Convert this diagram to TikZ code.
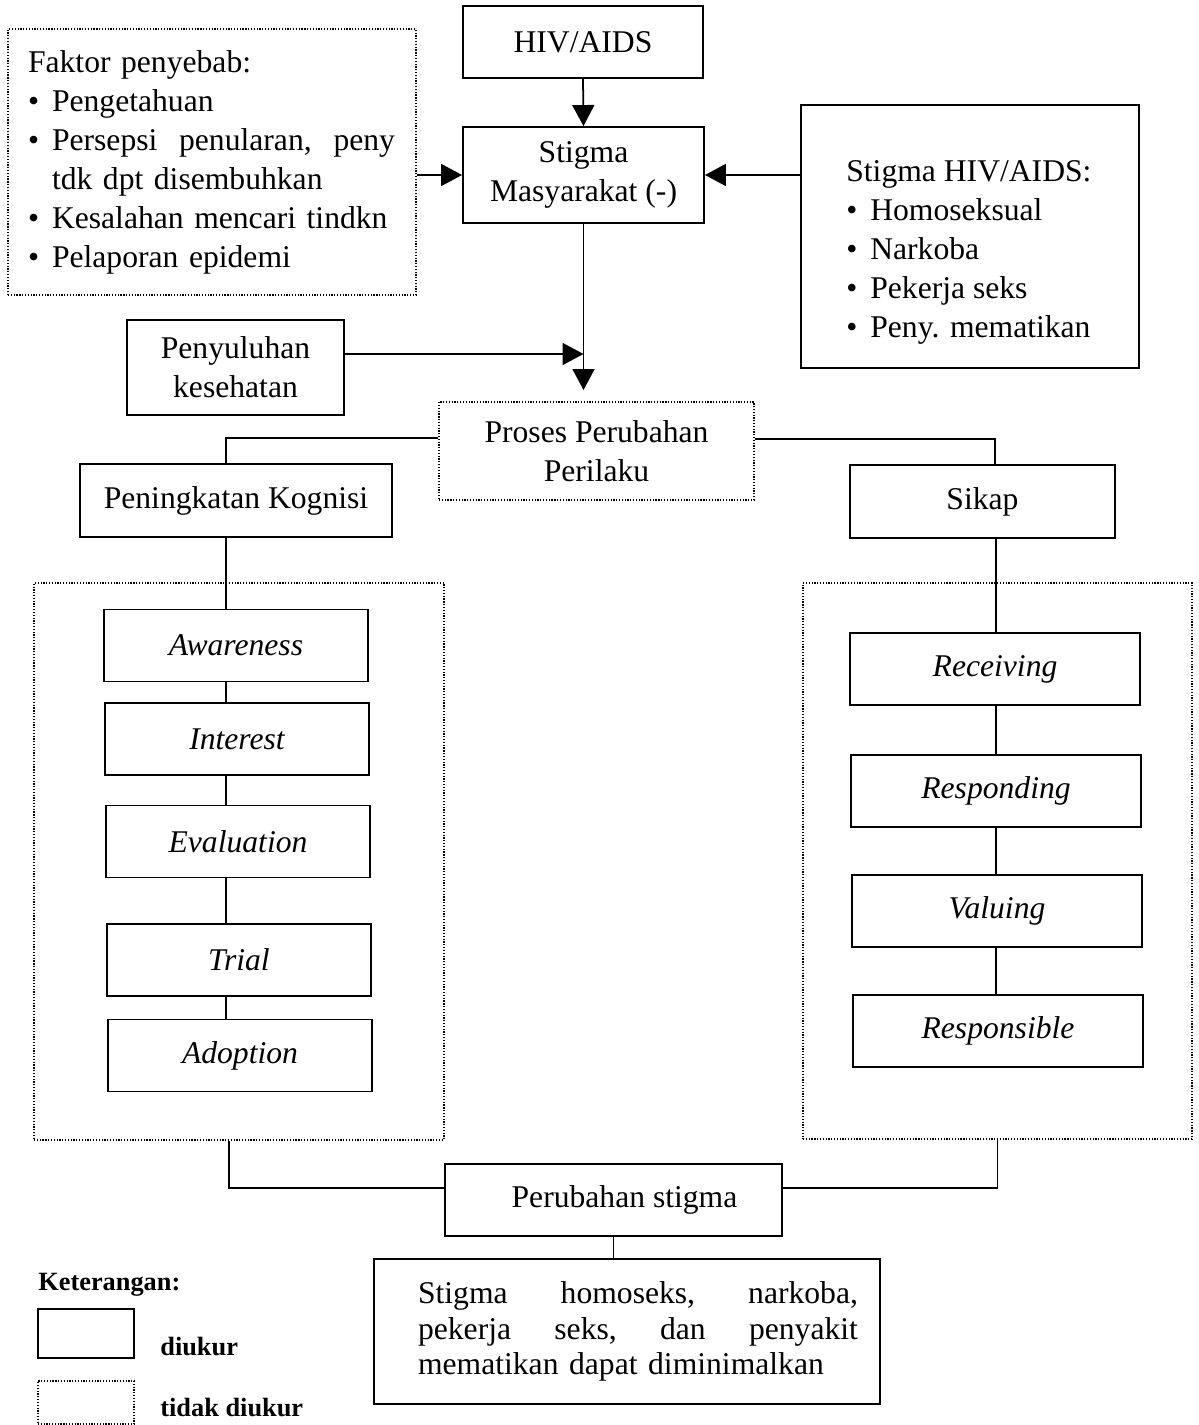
\documentclass[tikz,border=0pt]{standalone}
\usepackage{fontspec}
\setmainfont{Liberation Serif}
\usetikzlibrary{arrows.meta,calc}
\newcommand{\bul}{\makebox[0.48cm][l]{\textbullet}}
\begin{document}
\begin{tikzpicture}[x=0.02cm,y=-0.02cm,
  basefont/.style={font=\fontsize{18pt}{22.2pt}\selectfont},
  solidbox/.style={draw, line width=1.1pt, inner sep=0pt, align=center, basefont},
  dotbox/.style={draw, line width=0.9pt, dash pattern=on 0.7pt off 0.9pt, inner sep=0pt, align=center, basefont},
  stagebox/.style={solidbox, font=\fontsize{18pt}{22.2pt}\selectfont\itshape},
  lbox/.style={stagebox, minimum width=5.28cm, minimum height=1.44cm},
  rbox/.style={stagebox, minimum width=5.8cm, minimum height=1.44cm},
  legtext/.style={anchor=west, inner sep=0pt, font=\fontsize{15pt}{18pt}\selectfont\bfseries},
  link/.style={line width=1pt},
  arr/.style={line width=1pt, -{Triangle[length=0.42cm,width=0.44cm]}}]
\useasboundingbox (0,0) rectangle (1198,1425);

% helper coordinates
\coordinate (lx) at (226,0);
\coordinate (rx) at (996,0);
\coordinate (pend) at (584,390);

% top part
\node[solidbox, minimum width=4.8cm, minimum height=1.44cm] (hiv) at (583,42) {HIV/AIDS};
\node[solidbox, minimum width=4.82cm, minimum height=1.92cm] (stigma) at (583.5,175) {Stigma\\Masyarakat (-)};
\node[dotbox, minimum width=8.16cm, minimum height=5.32cm, text width=7.36cm, inner xsep=0.4cm, align=left] (faktor) at (212,162)
 {Faktor penyebab:\\
  \bul Pengetahuan\\
  \bul\makebox[6.86cm][l]{Persepsi\hfill penularan,\hfill peny}\\
  \hspace*{0.48cm}tdk dpt disembuhkan\\
  \bul Kesalahan mencari tindkn\\
  \bul Pelaporan epidemi};
\node[solidbox, minimum width=6.76cm, minimum height=5.26cm] (stigmahiv) at (970,236.5) {};
\node[anchor=north west, inner sep=0pt, align=left, basefont] (stigmahivtext) at (846,160)
 {Stigma HIV/AIDS:\\
  \bul Homoseksual\\
  \bul Narkoba\\
  \bul Pekerja seks\\
  \bul Peny. mematikan};
\node[solidbox, minimum width=4.34cm, minimum height=1.9cm] (penyuluhan) at (235.5,367.5) {Penyuluhan\\kesehatan};
\node[dotbox, minimum width=6.3cm, minimum height=1.96cm] (proses) at (596.5,451) {Proses Perubahan\\Perilaku};
\node[solidbox, minimum width=6.24cm, minimum height=1.46cm] (kognisi) at (236,500.5) {Peningkatan Kognisi};
\node[solidbox, minimum width=5.3cm, minimum height=1.46cm] (sikap) at (982.5,501.5) {Sikap};

% groups
\node[dotbox, minimum width=8.2cm, minimum height=11.14cm] (leftgroup) at (239,861.5) {};
\node[dotbox, minimum width=7.78cm, minimum height=11.12cm] (rightgroup) at (997.5,861) {};

% left chain
\node[lbox] (awareness) at (236,645.5) {Awareness};
\node[lbox] (interest) at (237,739) {Interest};
\node[lbox] (evaluation) at (238,841.5) {Evaluation};
\node[lbox] (trial) at (239,960) {Trial};
\node[lbox] (adoption) at (240,1055.5) {Adoption};

% right chain
\node[rbox] (receiving) at (995,669) {Receiving};
\node[rbox] (responding) at (996,791) {Responding};
\node[rbox] (valuing) at (997,911) {Valuing};
\node[rbox] (responsible) at (998,1031) {Responsible};

% bottom
\node[solidbox, minimum width=6.74cm, minimum height=1.44cm] (perubahan) at (613.5,1200) {\hspace*{0.44cm}Perubahan stigma};
\node[solidbox, minimum width=10.12cm, minimum height=2.9cm, text width=9.24cm, align=left, font=\fontsize{18pt}{20.3pt}\selectfont] (result) at (627,1331.5)
 {\hspace*{0.44cm}\makebox[8.8cm][l]{Stigma\hfill homoseks,\hfill narkoba,}\\
  \hspace*{0.44cm}\makebox[8.8cm][l]{pekerja\hfill seks,\hfill dan\hfill penyakit}\\
  \hspace*{0.44cm}mematikan dapat diminimalkan};

% legend
\node[legtext] (ket) at (38,1285) {Keterangan:};
\node[solidbox, minimum width=1.92cm, minimum height=0.98cm] (legsolid) at (86,1333.5) {};
\node[legtext] (diukur) at (160,1347) {diukur};
\node[dotbox, minimum width=1.92cm, minimum height=0.86cm] (legdot) at (86,1402.5) {};
\node[legtext] (tdiukur) at (160,1407) {tidak diukur};

% connectors top
\draw[arr] (hiv.south) -- (stigma.north);
\draw[arr] (faktor.east |- stigma.west) -- (stigma.west);
\draw[arr] (stigmahiv.west |- stigma.east) -- (stigma.east);
\draw[arr] (stigma.south) -- (stigma.south |- pend);
\draw[arr] ([yshift=0.27cm]penyuluhan.east) -- ([yshift=0.27cm]penyuluhan.east -| stigma.south);

% proses to branches
\draw[link] ([yshift=0.26cm]proses.west) -| (kognisi.north -| lx);
\draw[link] ([yshift=0.24cm]proses.east) -| ([xshift=-0.02cm]sikap.north -| rx);

% left chain links
\draw[link] (kognisi.south -| lx) -- (awareness.north -| lx);
\draw[link] (awareness.south -| lx) -- (interest.north -| lx);
\draw[link] (interest.south -| lx) -- (evaluation.north -| lx);
\draw[link] (evaluation.south -| lx) -- (trial.north -| lx);
\draw[link] (trial.south -| lx) -- (adoption.north -| lx);

% right chain links
\draw[link] (sikap.south -| rx) -- (receiving.north -| rx);
\draw[link] (receiving.south -| rx) -- (responding.north -| rx);
\draw[link] (responding.south -| rx) -- (valuing.north -| rx);
\draw[link] (valuing.south -| rx) -- (responsible.north -| rx);

% groups to perubahan
\draw[link] ([xshift=-0.2cm]leftgroup.south) |- ([yshift=0.24cm]perubahan.west);
\draw[link] (rightgroup.south) |- ([yshift=0.24cm]perubahan.east);
\draw[link] (perubahan.south) -- (perubahan.south |- result.north);
\end{tikzpicture}
\end{document}
